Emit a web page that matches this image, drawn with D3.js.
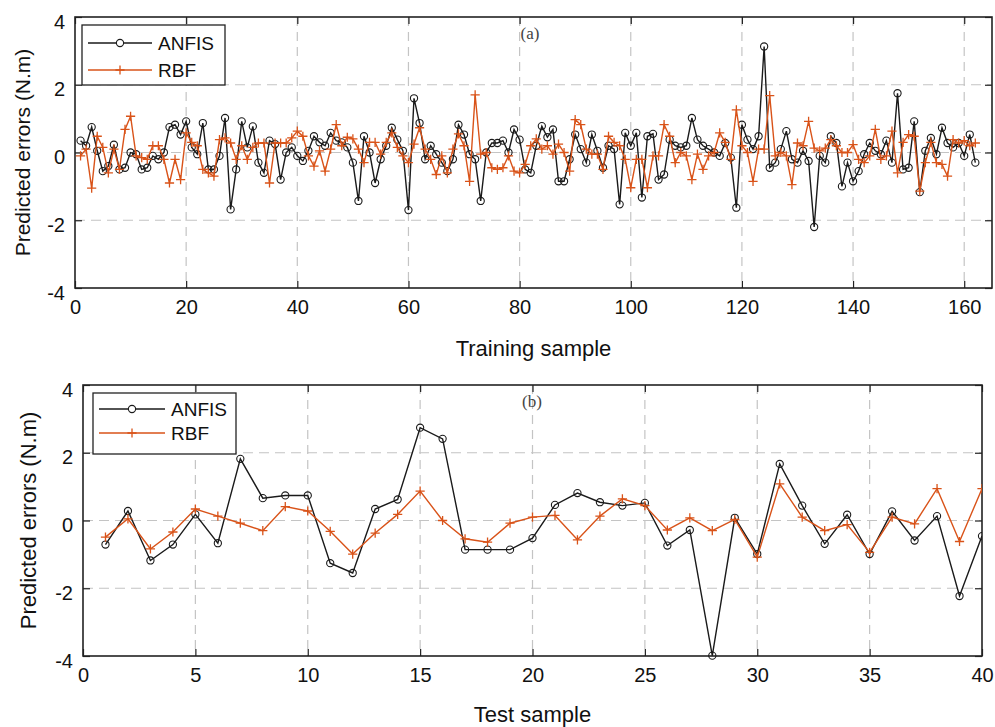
<!DOCTYPE html>
<html><head><meta charset="utf-8">
<script src="https://cdn.jsdelivr.net/npm/d3@7"></script>
<style>
html,body{margin:0;padding:0;background:#fff;}
svg{display:block;}
text{font-family:"Liberation Sans",Arial,Helvetica,sans-serif;}
</style></head>
<body>
<svg id="chart" width="995" height="727"></svg>
<script>
// ---------------- DATA ----------------
const seriesNames = ["ANFIS", "RBF"];
const trainAnfis = [0.35,0.2,0.75,0.05,-0.55,-0.4,0.23,-0.5,-0.45,0.0,
-0.05,-0.5,-0.45,-0.1,-0.2,0.0,0.75,0.82,0.53,0.92,
0.15,-0.05,0.87,-0.5,-0.5,-0.1,1.02,-1.68,-0.5,0.92,
0.15,0.77,-0.3,-0.6,0.35,0.25,-0.8,0.0,0.15,-0.1,
-0.25,0.05,0.48,0.3,0.2,0.58,0.35,0.3,0.15,-0.3,
-1.43,0.48,0.0,-0.9,-0.2,0.2,0.73,0.38,0.05,-1.7,
1.6,0.87,-0.2,0.2,-0.05,-0.3,-0.55,-0.2,0.82,0.53,
-0.05,-0.2,-1.43,0.0,0.28,0.28,0.35,0.0,0.68,0.38,
-0.5,-0.6,0.2,0.78,0.45,0.68,-0.85,-0.85,-0.2,0.53,
0.1,-0.3,0.53,0.05,-0.45,0.2,0.1,-1.53,0.58,0.2,
0.58,-1.33,0.48,0.55,-0.8,-0.65,0.38,0.2,0.15,0.2,
1.02,0.38,0.2,0.1,0.0,-0.1,0.28,-0.15,-1.63,0.82,
0.38,0.1,0.48,3.13,-0.45,-0.3,0.1,0.63,-0.2,-0.3,
0.05,-0.25,-2.2,-0.1,-0.3,0.48,0.28,-1.0,-0.3,-0.85,
-0.55,-0.05,0.28,0.05,-0.05,0.35,-0.3,1.75,-0.5,-0.45,
0.92,-1.17,0.05,0.43,-0.05,0.73,0.28,0.15,0.28,-0.1,
0.53,-0.3];
const trainRbf = [-0.1,0.1,-1.05,0.48,0.15,-0.6,0.1,-0.5,0.68,1.07,
-0.1,-0.15,-0.2,0.2,0.2,-0.2,-0.9,-0.2,-0.8,0.58,
0.3,0.2,-0.5,-0.6,-0.7,0.38,0.43,0.28,-0.2,0.2,
-0.2,0.15,0.28,0.28,-0.9,0.28,0.28,0.28,0.43,0.63,
0.48,-0.1,-0.4,0.05,-0.55,0.1,0.82,0.2,0.45,0.4,
0.1,-0.3,0.3,0.3,-0.05,0.3,0.58,0.15,-0.1,-0.3,
0.25,0.73,0.1,-0.2,-0.65,-0.1,-0.6,0.1,0.55,0.2,
-0.85,1.7,-0.05,0.0,-0.45,-0.5,-0.45,-0.1,-0.55,-0.6,
-0.35,0.2,0.4,0.1,0.2,-0.05,0.25,0.0,-0.55,0.97,
0.82,0.1,-0.05,-0.05,-0.5,0.48,0.3,0.2,-0.2,-1.04,
-0.2,-0.2,-1.04,-0.1,-0.1,0.82,0.48,-0.3,0.0,-0.1,
-0.8,-0.05,-0.5,-0.1,0.0,0.58,0.3,-0.2,1.26,0.2,
0.0,-0.85,0.1,0.1,1.68,-0.1,0.0,-0.1,-0.95,0.28,
0.2,0.92,0.13,0.05,0.13,0.38,0.2,0.0,0.0,0.23,
-0.2,-0.3,-0.1,0.68,-0.2,-0.1,0.63,-0.6,0.3,0.53,
0.48,-1.14,-0.3,0.3,-0.3,-0.35,-0.7,0.38,0.28,0.35,
0.2,0.28];
const testAnfis = [-0.71,0.28,-1.18,-0.71,0.18,-0.67,1.82,0.66,0.74,0.74,
-1.26,-1.55,0.34,0.62,2.74,2.41,-0.86,-0.86,-0.86,-0.52,
0.46,0.81,0.54,0.44,0.52,-0.74,-0.28,-3.99,0.08,-0.99,
1.67,0.44,-0.69,0.17,-0.99,0.27,-0.59,0.13,-2.23,-0.46];
const testRbf = [-0.49,0.05,-0.84,-0.34,0.34,0.13,-0.08,-0.3,0.41,0.28,
-0.32,-0.99,-0.37,0.18,0.87,0.0,-0.54,-0.64,-0.08,0.1,
0.15,-0.57,0.13,0.64,0.44,-0.28,0.08,-0.3,0.03,-1.08,
1.08,0.1,-0.3,-0.12,-0.94,0.1,-0.1,0.94,-0.62,0.94];
const yTicks = [-4,-2,0,2,4];
const trainTicks = [0,20,40,60,80,100,120,140,160];
const testTicks = [0,5,10,15,20,25,30,35,40];

// ---------------- DRAW ----------------
const svg = d3.select("#chart");
const colors = {ANFIS:"#1a1a1a", RBF:"#D95319"};
const fmt = d => String(d);

function panel(cfg){
  const g = svg.append("g");
  const x = d3.scaleLinear().domain(cfg.xDomain).range([cfg.left, cfg.right]);
  const y = d3.scaleLinear().domain([-4,4]).range([cfg.bottom, cfg.top]);
  const clipId = "clip"+cfg.id;
  svg.append("clipPath").attr("id",clipId).append("rect")
    .attr("x",cfg.left).attr("y",cfg.top-6).attr("width",cfg.right-cfg.left).attr("height",cfg.bottom-cfg.top+12);

  // grid
  g.append("g").selectAll("line").data(cfg.xTicks.filter(t=>t>cfg.xDomain[0] && t<cfg.xDomain[1])).join("line")
    .attr("x1",d=>x(d)).attr("x2",d=>x(d)).attr("y1",cfg.top).attr("y2",cfg.bottom)
    .attr("stroke","#c4c4c4").attr("stroke-width",1.2).attr("stroke-dasharray","9,6");
  g.append("g").selectAll("line").data(yTicks.filter(t=>t>-4 && t<4)).join("line")
    .attr("x1",cfg.left).attr("x2",cfg.right).attr("y1",d=>y(d)).attr("y2",d=>y(d))
    .attr("stroke","#c4c4c4").attr("stroke-width",1.2).attr("stroke-dasharray","10,6");

  // axes with inward ticks
  const tl = 7;
  const axB = d3.axisBottom(x).tickValues(cfg.xTicks).tickSize(-tl).tickPadding(12).tickFormat(fmt);
  const axT = d3.axisTop(x).tickValues(cfg.xTicks).tickSize(-tl).tickFormat("");
  const axL = d3.axisLeft(y).tickValues(yTicks).tickSize(-tl).tickPadding(10).tickFormat(fmt);
  const axR = d3.axisRight(y).tickValues(yTicks).tickSize(-tl).tickFormat("");
  const gb = g.append("g").attr("transform",`translate(0,${cfg.bottom})`).call(axB);
  const gt = g.append("g").attr("transform",`translate(0,${cfg.top})`).call(axT);
  const gl = g.append("g").attr("transform",`translate(${cfg.left},0)`).call(axL);
  const gr = g.append("g").attr("transform",`translate(${cfg.right},0)`).call(axR);
  [gb,gt,gl,gr].forEach(a=>{a.select(".domain").remove();
    a.selectAll(".tick line").attr("stroke","#222").attr("stroke-width",1.2);
    a.selectAll("text").attr("fill","#111").style("font-size","20px");});
  gb.selectAll("text").attr("dy","0.71em");
  gl.selectAll("text").attr("dy","0.55em");

  // box
  g.append("rect").attr("x",cfg.left).attr("y",cfg.top).attr("width",cfg.right-cfg.left).attr("height",cfg.bottom-cfg.top)
    .attr("fill","none").attr("stroke","#222").attr("stroke-width",1.6);

  // panel tag
  g.append("text").attr("x",cfg.tagX).attr("y",cfg.top+22).attr("text-anchor","middle")
    .style("font-family","'Liberation Serif','Times New Roman',serif").style("font-size","17px").attr("fill","#444").text(cfg.tag);

  // series
  const line = d3.line().x((d,i)=>x(i+1)).y(d=>y(d));
  const plot = g.append("g").attr("clip-path",`url(#${clipId})`);
  plot.append("path").datum(cfg.anfis).attr("d",line).attr("fill","none").attr("stroke",colors.ANFIS).attr("stroke-width",1.4);
  plot.append("g").selectAll("circle").data(cfg.anfis).join("circle")
    .attr("cx",(d,i)=>x(i+1)).attr("cy",d=>y(d)).attr("r",3.6)
    .attr("fill","none").attr("stroke",colors.ANFIS).attr("stroke-width",1.1);
  plot.append("path").datum(cfg.rbf).attr("d",line).attr("fill","none").attr("stroke",colors.RBF).attr("stroke-width",1.4);
  const s = 4.6;
  plot.append("g").selectAll("path").data(cfg.rbf).join("path")
    .attr("d",(d,i)=>`M${x(i+1)-s},${y(d)}H${x(i+1)+s}M${x(i+1)},${y(d)-s}V${y(d)+s}`)
    .attr("stroke",colors.RBF).attr("stroke-width",1.3).attr("fill","none");

  // axis labels
  g.append("text").attr("x",(cfg.left+cfg.right)/2).attr("y",cfg.xLabelY).attr("text-anchor","middle")
    .style("font-size",cfg.xLabelSize+"px").attr("fill","#111").text(cfg.xLabel);
  g.append("text").attr("transform",`translate(${cfg.yLabelX},${(cfg.top+cfg.bottom)/2}) rotate(-90)`)
    .attr("text-anchor","middle").style("font-size",cfg.yLabelSize+"px").attr("fill","#111").text("Predicted errors (N.m)");

  // legend
  const L = cfg.legend;
  g.append("rect").attr("x",L.x).attr("y",L.y).attr("width",L.w).attr("height",L.h)
    .attr("fill","#fff").attr("stroke","#222").attr("stroke-width",1.3);
  seriesNames.forEach((name,k)=>{
    const ly = L.y + L.row0 + k*L.dy;
    g.append("line").attr("x1",L.x+6).attr("x2",L.x+6+L.len).attr("y1",ly).attr("y2",ly)
      .attr("stroke",colors[name]).attr("stroke-width",1.4);
    const mx = L.x+6+L.len/2;
    if(name==="ANFIS"){
      g.append("circle").attr("cx",mx).attr("cy",ly).attr("r",3.6).attr("fill","#fff").attr("stroke",colors[name]).attr("stroke-width",1.1);
    } else {
      g.append("path").attr("d",`M${mx-s},${ly}H${mx+s}M${mx},${ly-s}V${ly+s}`).attr("stroke",colors[name]).attr("stroke-width",1.3);
    }
    g.append("text").attr("x",L.x+L.len+12).attr("y",ly).attr("dy","0.36em")
      .style("font-size","19px").attr("fill","#111").text(name);
  });
}

panel({id:"a", xDomain:[0,165], left:75, right:992, top:17, bottom:288,
  xTicks:trainTicks, anfis:trainAnfis, rbf:trainRbf, tag:"(a)", tagX:530,
  xLabel:"Training sample", xLabelY:356, xLabelSize:22, yLabelX:30, yLabelSize:21,
  legend:{x:82,y:25,w:143,h:60,row0:18,dy:27,len:64}});
panel({id:"b", xDomain:[0,40], left:83, right:982, top:385, bottom:656,
  xTicks:testTicks, anfis:testAnfis, rbf:testRbf, tag:"(b)", tagX:532,
  xLabel:"Test sample", xLabelY:722, xLabelSize:22, yLabelX:36, yLabelSize:22,
  legend:{x:93,y:393,w:143,h:61,row0:16,dy:24,len:66}});
</script>
</body></html>
